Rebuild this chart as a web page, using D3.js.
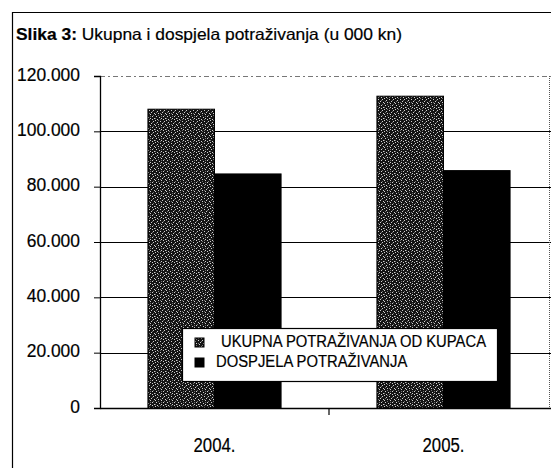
<!DOCTYPE html>
<html>
<head>
<meta charset="utf-8">
<script src="https://cdn.jsdelivr.net/npm/d3@7"></script>
<style>
  body { margin: 0; background: #fff; }
  text { font-family: "Liberation Sans Narrow", "Arial Narrow", "Liberation Sans", Arial, sans-serif; fill: #000; stroke: #000; stroke-width: 0.2px; }
</style>
</head>
<body>
<div id="chart"></div>
<script>
// Data.
var years = ["2004.", "2005."];
var seriesNames = ["UKUPNA POTRAŽIVANJA OD KUPACA", "DOSPJELA POTRAŽIVANJA"];
var ukupna = [108000, 112700];
var dospjela = [84600, 85800];
var yTicks = [0, 20000, 40000, 60000, 80000, 100000, 120000];

var width = 551, height = 468;
var margin = {top: 76, right: -7, bottom: 60, left: 100};
var plotW = width - margin.left - margin.right;
var plotH = height - margin.top - margin.bottom;

var svg = d3.select("#chart")
    .append("svg")
    .attr("width", width)
    .attr("height", height);

// Dark grainy pattern for the first series (irregular speckles, like the scan).
var defs = svg.append("defs");
var pat = defs.append("pattern")
    .attr("id", "dither")
    .attr("width", 11)
    .attr("height", 11)
    .attr("patternUnits", "userSpaceOnUse");
pat.append("rect").attr("width", 11).attr("height", 11).attr("fill", "#141414");
var lightDots = [[0, 0], [5, 1], [9, 1], [2, 2], [7, 3], [3, 4], [10, 4], [0, 5], [6, 5],
    [8, 7], [1, 7], [4, 8], [10, 9], [6, 9], [2, 10], [8, 10]];
var midDots = [[3, 0], [8, 2], [5, 4], [1, 3], [9, 6], [3, 6], [6, 7], [0, 9], [5, 10]];
lightDots.forEach(function(p) {
    pat.append("rect").attr("x", p[0]).attr("y", p[1]).attr("width", 1).attr("height", 1).attr("fill", "#d0d0d0");
});
midDots.forEach(function(p) {
    pat.append("rect").attr("x", p[0]).attr("y", p[1]).attr("width", 1).attr("height", 1).attr("fill", "#707070");
});

// Outer frame of the figure.
svg.append("line").attr("x1", 12.5).attr("x2", 12.5).attr("y1", 12).attr("y2", height)
    .attr("stroke", "#000").attr("stroke-width", 1.2);
svg.append("line").attr("x1", 12).attr("x2", width).attr("y1", 12.5).attr("y2", 12.5)
    .attr("stroke", "#000").attr("stroke-width", 1.2);

// Title.
var title = svg.append("text")
    .attr("x", 16)
    .attr("y", 40)
    .style("font-size", "16.5px");
title.append("tspan").style("font-weight", "bold").text("Slika 3:");
title.append("tspan").text(" Ukupna i dospjela potraživanja (u 000 kn)");
title.attr("textLength", 386).attr("lengthAdjust", "spacingAndGlyphs");

var g = svg.append("g")
    .attr("transform", "translate(" + margin.left + "," + margin.top + ")");

var x0 = d3.scaleBand().domain(years).range([0, plotW]).padding(0);
var x1 = d3.scaleBand().domain(seriesNames).range([0, x0.bandwidth()])
    .paddingInner(0).paddingOuter(0.72);
var y = d3.scaleLinear().domain([0, 120000]).range([plotH, 0]);

// Gridlines.
g.selectAll(".grid")
    .data(yTicks.filter(function(d) { return d > 0; }))
    .enter()
    .append("line")
    .attr("x1", 0)
    .attr("x2", plotW)
    .attr("y1", function(d) { return Math.round(y(d)) + 0.5; })
    .attr("y2", function(d) { return Math.round(y(d)) + 0.5; })
    .attr("stroke", function(d) { return d === 120000 ? "#777" : "#000"; })
    .attr("stroke-width", function(d) { return d === 120000 ? 1 : 1.2; })
    .attr("stroke-dasharray", function(d) { return d === 120000 ? "5,3,2,3" : null; });

// Right dotted border of the plot.
svg.append("line")
    .attr("x1", 549.5).attr("x2", 549.5)
    .attr("y1", margin.top).attr("y2", margin.top + plotH)
    .attr("stroke", "#555").attr("stroke-dasharray", "1,1");

// Bars.
var rows = years.map(function(yr, i) {
    return {year: yr, values: [ukupna[i], dospjela[i]]};
});
var fills = ["url(#dither)", "#000"];

var groups = g.selectAll(".yr")
    .data(rows)
    .enter()
    .append("g")
    .attr("transform", function(d) { return "translate(" + x0(d.year) + ",0)"; });

groups.selectAll("rect")
    .data(function(d) { return d.values.map(function(v, i) { return {name: seriesNames[i], value: v, i: i}; }); })
    .enter()
    .append("rect")
    .attr("x", function(d) { return x1(d.name); })
    .attr("width", x1.bandwidth())
    .attr("y", function(d) { return y(d.value); })
    .attr("height", function(d) { return plotH - y(d.value); })
    .attr("fill", function(d) { return fills[d.i]; })
    .attr("stroke", "#000")
    .attr("stroke-width", 1);

// Scale a group of labels horizontally so the reference label gets the wanted width.
function fitWidth(sel, refWidth, target) {
    var k = target / refWidth;
    sel.each(function() {
        d3.select(this)
            .attr("textLength", this.getComputedTextLength() * k)
            .attr("lengthAdjust", "spacingAndGlyphs");
    });
}

// Axes.
var yAxis = g.append("g")
    .call(d3.axisLeft(y).tickValues(yTicks).tickSize(6).tickPadding(14)
        .tickFormat(function(d) { return d3.format(",")(d).replace(/,/g, "."); }));
yAxis.select(".domain").attr("stroke", "#000").attr("stroke-width", 1.3);
yAxis.selectAll(".tick line").attr("stroke", "#000");
var yLabels = yAxis.selectAll(".tick text")
    .style("font-size", "18px")
    .attr("dy", "4px");
var widest = d3.max(yLabels.nodes(), function(n) { return n.getComputedTextLength(); });
yLabels.call(fitWidth, widest, 63);

var xAxis = g.append("g")
    .attr("transform", "translate(0," + plotH + ")")
    .call(d3.axisBottom(x0).tickSize(0));
xAxis.select(".domain").attr("stroke", "#000").attr("stroke-width", 1.3);
var xLabels = xAxis.selectAll(".tick text")
    .style("font-size", "20.5px")
    .attr("y", 44)
    .attr("dy", 0);
xLabels.call(fitWidth, xLabels.node().getComputedTextLength(), 42);
// Category separator tick marks.
xAxis.selectAll(".sep")
    .data(years.slice(1))
    .enter()
    .append("line")
    .attr("x1", function(d) { return x0(d); })
    .attr("x2", function(d) { return x0(d); })
    .attr("y1", 0)
    .attr("y2", 7)
    .attr("stroke", "#000")
    .attr("stroke-width", 1.2);

// Legend.
var legend = svg.append("g").attr("transform", "translate(182,328)");
legend.append("rect")
    .attr("x", 0.5).attr("y", 0.5)
    .attr("width", 315).attr("height", 53)
    .attr("fill", "#fff").attr("stroke", "#000").attr("stroke-width", 1.2);
var items = legend.selectAll(".item")
    .data(seriesNames)
    .enter()
    .append("g")
    .attr("transform", function(d, i) { return "translate(0," + (i * 20) + ")"; });
items.append("rect")
    .attr("x", 13).attr("y", 10)
    .attr("width", 9).attr("height", 9)
    .attr("fill", function(d, i) { return i === 0 ? "url(#dither)" : "#000"; })
    .attr("stroke", "#000");
var legendText = items.append("text")
    .attr("x", function(d, i) { return i === 0 ? 39 : 34; })
    .attr("y", 19)
    .style("font-size", "16px")
    .text(function(d) { return d; });
legendText.call(fitWidth, legendText.node().getComputedTextLength(), 265);
</script>
</body>
</html>
